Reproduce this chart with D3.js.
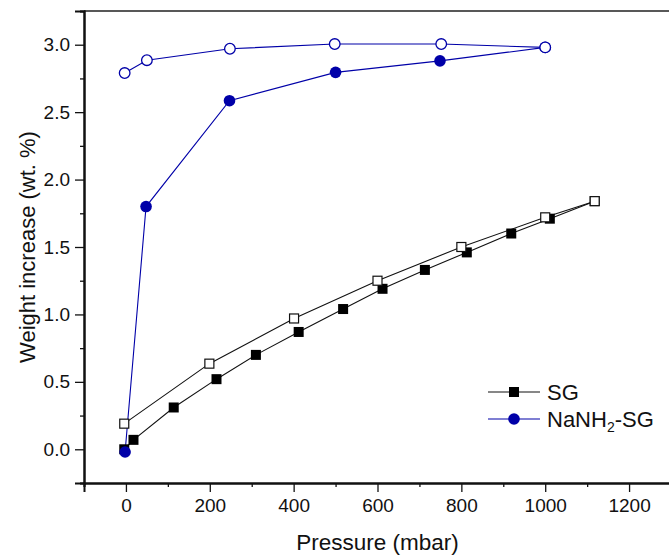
<!DOCTYPE html>
<html>
<head>
<meta charset="utf-8">
<script src="https://cdn.jsdelivr.net/npm/d3@7"></script>
<style>
  body { margin: 0; background: #fff; }
  svg { display: block; font-family: "Liberation Sans", Arial, sans-serif; }
</style>
</head>
<body>
<div id="chart"></div>
<script>
// SG - adsorption (filled squares) and desorption (open squares)
const sgAdsP = [-4, 18, 114, 216, 310, 412, 518, 612, 713, 813, 919, 1011, 1118];
const sgAdsW = [0.0, 0.07, 0.31, 0.52, 0.70, 0.87, 1.04, 1.19, 1.33, 1.46, 1.60, 1.71, 1.84];
const sgDesP = [1118, 1000, 800, 600, 401, 199, -4];
const sgDesW = [1.84, 1.72, 1.50, 1.25, 0.97, 0.635, 0.19];

// NaNH2-SG - adsorption (filled circles) and desorption (open circles)
const naAdsP = [-2, 48, 247, 500, 749, 1000];
const naAdsW = [-0.02, 1.80, 2.585, 2.795, 2.88, 2.98];
const naDesP = [1000, 752, 498, 248, 50, -3];
const naDesW = [2.98, 3.005, 3.005, 2.97, 2.885, 2.79];

const xTicks = [0, 200, 400, 600, 800, 1000, 1200];
const yTicks = [0.0, 0.5, 1.0, 1.5, 2.0, 2.5, 3.0];

const width = 669, height = 558;
const margin = { left: 84, top: 11, right: 671, bottom: 483 };
const blue = "#0000a8";
const font = "'Liberation Sans', Arial, sans-serif";

const svg = d3.select("#chart").append("svg")
    .attr("width", width)
    .attr("height", height);

const x = d3.scaleLinear().domain([-100, 1300]).range([margin.left, margin.right]);
const y = d3.scaleLinear().domain([-0.25, 3.25]).range([margin.bottom, margin.top]);

// frame (top + right)
svg.append("path")
    .attr("d", `M${margin.left},${margin.top}H${margin.right}V${margin.bottom}`)
    .attr("fill", "none")
    .attr("stroke", "#222")
    .attr("stroke-width", 1.5);

// x axis
svg.append("g")
    .attr("transform", `translate(0,${margin.bottom})`)
    .call(d3.axisBottom(x).tickValues(xTicks).tickFormat(d3.format("d")).tickSizeOuter(0).tickSize(9).tickPadding(7));
svg.append("g")
    .attr("transform", `translate(0,${margin.bottom})`)
    .call(d3.axisBottom(x).tickValues(d3.range(-100, 1300, 200)).tickFormat("").tickSizeOuter(0).tickSize(4));

// y axis
svg.append("g")
    .attr("transform", `translate(${margin.left},0)`)
    .call(d3.axisLeft(y).tickValues(yTicks).tickFormat(d3.format(".1f")).tickSizeOuter(0).tickSize(9).tickPadding(5));
svg.append("g")
    .attr("transform", `translate(${margin.left},0)`)
    .call(d3.axisLeft(y).tickValues(d3.range(-0.25, 3.3, 0.5)).tickFormat("").tickSizeOuter(0).tickSize(4));

svg.selectAll(".domain").attr("stroke", "#111").attr("stroke-width", 2);
svg.selectAll(".tick line").attr("stroke", "#111").attr("stroke-width", 1.3);
svg.selectAll(".tick text").attr("font-size", 19).attr("fill", "#111")
    .attr("font-family", font);

// axis titles
svg.append("text")
    .attr("x", x(600))
    .attr("y", 550)
    .attr("text-anchor", "middle")
    .attr("font-size", 22.5)
    .attr("fill", "#111")
    .text("Pressure (mbar)");

svg.append("text")
    .attr("transform", `translate(35,${y(1.5)}) rotate(-90)`)
    .attr("text-anchor", "middle")
    .attr("font-size", 22)
    .attr("fill", "#111")
    .text("Weight increase (wt. %)");

const line = d3.line().x(d => x(d[0])).y(d => y(d[1]));
const zip = (a, b) => a.map((v, i) => [v, b[i]]);

const sgAds = zip(sgAdsP, sgAdsW), sgDes = zip(sgDesP, sgDesW);
const naAds = zip(naAdsP, naAdsW), naDes = zip(naDesP, naDesW);

// lines
[[sgAds, "#111"], [sgDes, "#111"], [naAds, blue], [naDes, blue]].forEach(([pts, c]) => {
    svg.append("path")
        .datum(pts)
        .attr("d", line)
        .attr("fill", "none")
        .attr("stroke", c)
        .attr("stroke-width", 1.1);
});

// markers
const sq = 10;
svg.append("g").selectAll("rect")
    .data(sgAds).join("rect")
    .attr("x", d => x(d[0]) - sq / 2)
    .attr("y", d => y(d[1]) - sq / 2)
    .attr("width", sq).attr("height", sq)
    .attr("fill", "#000");
svg.append("g").selectAll("rect")
    .data(sgDes).join("rect")
    .attr("x", d => x(d[0]) - sq / 2 + 0.5)
    .attr("y", d => y(d[1]) - sq / 2 + 0.5)
    .attr("width", sq - 1).attr("height", sq - 1)
    .attr("fill", "#fff")
    .attr("stroke", "#111")
    .attr("stroke-width", 1.2);

svg.append("g").selectAll("circle")
    .data(naAds).join("circle")
    .attr("cx", d => x(d[0]))
    .attr("cy", d => y(d[1]))
    .attr("r", 5.8)
    .attr("fill", blue);
svg.append("g").selectAll("circle")
    .data(naDes).join("circle")
    .attr("cx", d => x(d[0]))
    .attr("cy", d => y(d[1]))
    .attr("r", 5.3)
    .attr("fill", "#fff")
    .attr("stroke", blue)
    .attr("stroke-width", 1.3);

// legend
const lg = svg.append("g");
const rows = [
    { label: "SG", color: "#111", shape: "square", y: 392 },
    { label: "NaNH", sub: "2", rest: "-SG", color: blue, shape: "circle", y: 419 }
];
rows.forEach(r => {
    lg.append("line")
        .attr("x1", 488).attr("x2", 540)
        .attr("y1", r.y).attr("y2", r.y)
        .attr("stroke", r.color).attr("stroke-width", 1.1);
    if (r.shape === "square") {
        lg.append("rect").attr("x", 514 - sq / 2).attr("y", r.y - sq / 2)
            .attr("width", sq).attr("height", sq).attr("fill", "#000");
    } else {
        lg.append("circle").attr("cx", 514).attr("cy", r.y).attr("r", 5.8).attr("fill", blue);
    }
    const t = lg.append("text")
        .attr("x", 547).attr("y", r.y + 7.5)
        .attr("font-size", 22).attr("fill", "#111");
    t.append("tspan").text(r.label);
    if (r.sub) {
        t.append("tspan").attr("font-size", 14).attr("dy", 5).text(r.sub);
        t.append("tspan").attr("dy", -5).text(r.rest);
    }
});
</script>
</body>
</html>
